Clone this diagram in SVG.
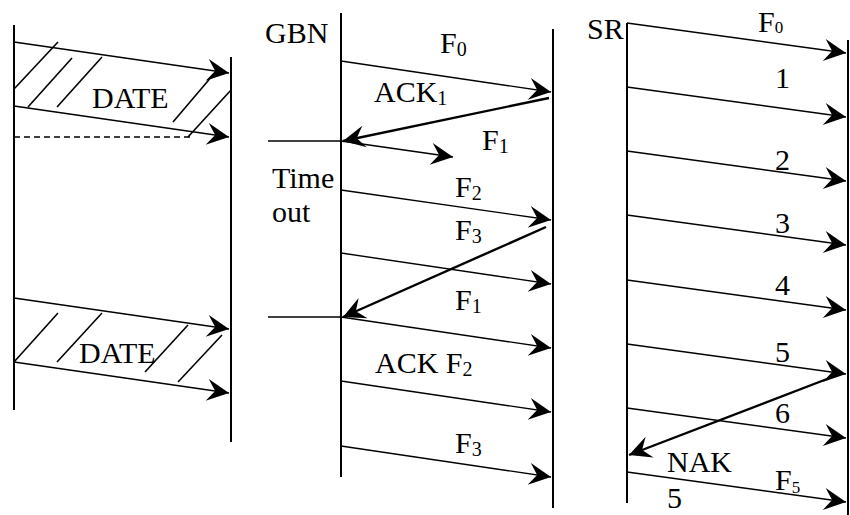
<svg xmlns="http://www.w3.org/2000/svg" width="850" height="515" viewBox="0 0 850 515">
  <style>
    .life { stroke: #000; stroke-width: 2; fill: none; }
    .msg { stroke: #000; stroke-width: 1.4; fill: none; marker-end: url(#head); }
    .back { stroke: #000; stroke-width: 2.4; fill: none; marker-end: url(#head); }
    .plain { stroke: #000; stroke-width: 1.6; fill: none; }
    .dash { stroke: #000; stroke-width: 1.6; fill: none; stroke-dasharray: 6 4; }
    .t { font-size: 30px; fill: #000; }
    .sub { font-size: 20px; }
    .ssub { font-size: 17px; }
  </style>
  <defs>
    <marker id="head" markerUnits="userSpaceOnUse" viewBox="-24 -12 26 24" refX="0" refY="0" markerWidth="26" markerHeight="24" orient="auto">
      <path d="M0,0 L-22,-11 L-14,0 L-22,11 Z" fill="#000"/>
    </marker>
  </defs>

  <g font-family="Liberation Serif, Tinos, DejaVu Serif, Noto Serif, serif">
  <!-- Stop-and-wait panel -->
  <g id="saw">
    <line class="life" x1="14" y1="25" x2="14" y2="410"/>
    <line class="life" x1="231" y1="57" x2="231" y2="442"/>
    <g id="saw-frame1">
      <line class="msg" x1="14" y1="42" x2="229" y2="73"/>
      <line class="msg" x1="14" y1="106" x2="229" y2="137"/>
      <line class="dash" x1="14" y1="137" x2="190" y2="137"/>
      <line class="plain" x1="14" y1="89" x2="58" y2="42"/>
      <line class="plain" x1="28" y1="107" x2="72" y2="58"/>
      <line class="plain" x1="57" y1="107" x2="102" y2="57"/>
      <line class="plain" x1="173" y1="122" x2="213" y2="75"/>
      <line class="plain" x1="188" y1="137" x2="231" y2="90"/>
      <text class="t" x="92" y="108">DATE</text>
    </g>
    <g id="saw-frame2">
      <line class="msg" x1="14" y1="298" x2="229" y2="329"/>
      <line class="msg" x1="14" y1="362" x2="229" y2="393"/>
      <line class="plain" x1="14" y1="362" x2="58" y2="313"/>
      <line class="plain" x1="57" y1="362" x2="102" y2="313"/>
      <line class="plain" x1="145" y1="372" x2="188" y2="325"/>
      <line class="plain" x1="178" y1="382" x2="222" y2="335"/>
      <text class="t" x="79" y="363">DATE</text>
    </g>
  </g>

  <!-- Go-Back-N panel -->
  <g id="gbn">
    <text class="t" x="265" y="43">GBN</text>
    <line class="life" x1="341" y1="13" x2="341" y2="477"/>
    <line class="life" x1="553" y1="29" x2="553" y2="508"/>
    <line class="plain" x1="268" y1="141" x2="341" y2="141"/>
    <line class="plain" x1="268" y1="317" x2="341" y2="317"/>
    <text class="t" x="272" y="188">Time</text>
    <text class="t" x="272" y="222">out</text>
  </g>
  <g id="gbn-connectors">
    <line class="msg" x1="341" y1="61" x2="551" y2="92"/>
    <line class="back" x1="549" y1="98" x2="343" y2="141"/>
    <line class="msg" x1="341" y1="141" x2="453" y2="157"/>
    <line class="msg" x1="341" y1="190" x2="551" y2="220"/>
    <line class="back" x1="546" y1="227" x2="343" y2="317"/>
    <line class="msg" x1="341" y1="253" x2="551" y2="284"/>
    <line class="msg" x1="341" y1="317" x2="551" y2="348"/>
    <line class="msg" x1="341" y1="381" x2="551" y2="412"/>
    <line class="msg" x1="341" y1="446" x2="551" y2="477"/>
  </g>
  <g id="gbn-labels">
    <text class="t" x="440" y="53">F<tspan class="sub" dy="3">0</tspan></text>
    <text class="t" x="374" y="102">ACK<tspan class="sub" dy="3">1</tspan></text>
    <text class="t" x="482" y="150">F<tspan class="sub" dy="3">1</tspan></text>
    <text class="t" x="455" y="197">F<tspan class="sub" dy="3">2</tspan></text>
    <text class="t" x="455" y="240">F<tspan class="sub" dy="3">3</tspan></text>
    <text class="t" x="455" y="310">F<tspan class="sub" dy="3">1</tspan></text>
    <text class="t" x="375" y="373">ACK F<tspan class="sub" dy="3">2</tspan></text>
    <text class="t" x="455" y="453">F<tspan class="sub" dy="3">3</tspan></text>
  </g>

  <!-- Selective-repeat panel -->
  <g id="sr">
    <text class="t" x="587" y="39">SR</text>
    <line class="life" x1="627" y1="23" x2="627" y2="503"/>
    <line class="life" x1="848" y1="40" x2="848" y2="515"/>
  </g>
  <g id="sr-connectors">
    <line class="msg" x1="627" y1="23" x2="846" y2="53"/>
    <line class="msg" x1="627" y1="87" x2="846" y2="117"/>
    <line class="msg" x1="627" y1="151" x2="846" y2="181"/>
    <line class="msg" x1="627" y1="215" x2="846" y2="245"/>
    <line class="msg" x1="627" y1="280" x2="846" y2="310"/>
    <line class="msg" x1="627" y1="344" x2="846" y2="374"/>
    <line class="msg" x1="627" y1="408" x2="846" y2="438"/>
    <line class="back" x1="840" y1="374" x2="629" y2="455"/>
    <line class="msg" x1="627" y1="472" x2="846" y2="502"/>
  </g>
  <g id="sr-labels">
    <text class="t" x="758" y="32">F<tspan class="ssub" dy="1">0</tspan></text>
    <text class="t" x="775" y="88">1</text>
    <text class="t" x="775" y="170">2</text>
    <text class="t" x="775" y="233">3</text>
    <text class="t" x="775" y="295">4</text>
    <text class="t" x="775" y="362">5</text>
    <text class="t" x="775" y="423">6</text>
    <text class="t" x="667" y="472">NAK</text>
    <text class="t" x="667" y="508">5</text>
    <text class="t" x="775" y="490">F<tspan class="ssub" dy="3">5</tspan></text>
  </g>
  </g>
</svg>
